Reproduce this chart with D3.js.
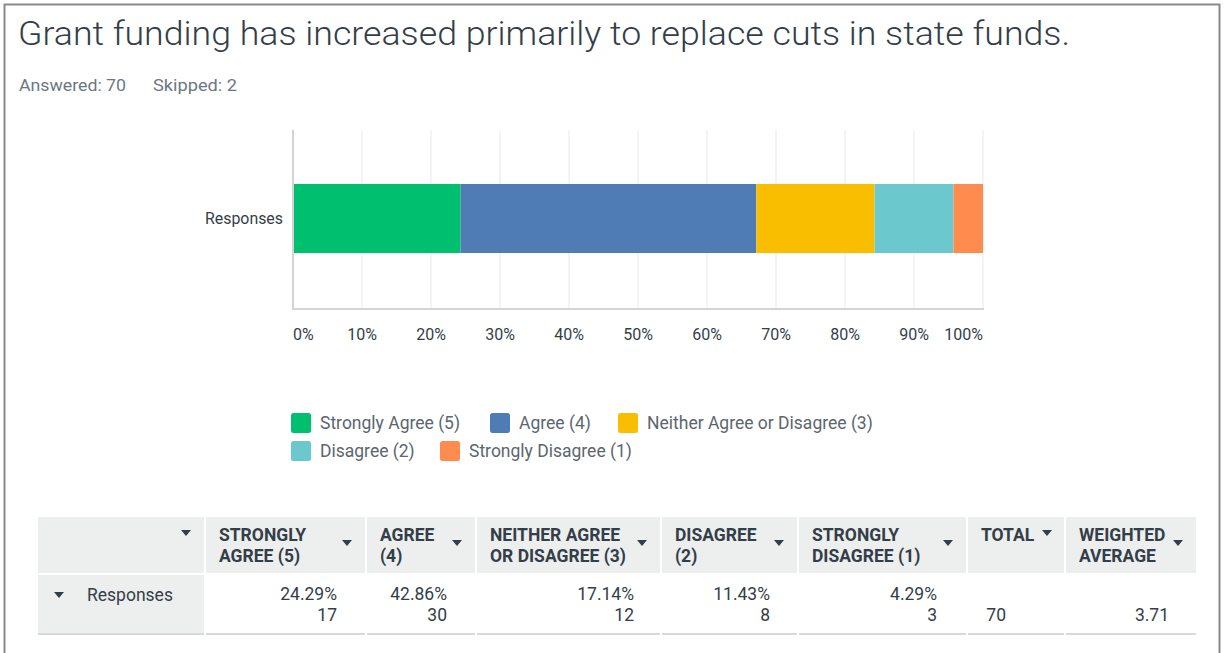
<!DOCTYPE html>
<html>
<head>
<meta charset="utf-8">
<script src="https://cdn.jsdelivr.net/npm/d3@7"></script>
<style>
  html, body { margin: 0; padding: 0; background: #fff; }
  svg { display: block; font-family: Roboto, "Open Sans", sans-serif; }
</style>
</head>
<body>
<svg id="chart" width="1224" height="653"></svg>
<script>
// Survey question and response summary
const title = "Grant funding has increased primarily to replace cuts in state funds.";
const answered = 70;
const skipped = 2;
const rowLabel = "Responses";

const categories = ["Strongly Agree (5)", "Agree (4)", "Neither Agree or Disagree (3)", "Disagree (2)", "Strongly Disagree (1)"];
const headerLines = [["STRONGLY", "AGREE (5)"], ["AGREE", "(4)"], ["NEITHER AGREE", "OR DISAGREE (3)"], ["DISAGREE", "(2)"], ["STRONGLY", "DISAGREE (1)"]];
const percents = [24.29, 42.86, 17.14, 11.43, 4.29];
const counts = [17, 30, 12, 8, 3];
const total = 70;
const weightedAverage = 3.71;
const tickValues = [0, 10, 20, 30, 40, 50, 60, 70, 80, 90, 100];
const colors = ["#00bf6f", "#507cb6", "#f9be00", "#6bc8cd", "#ff8b4f"];

const svg = d3.select("#chart");

// Outer frame (top, left, right edges)
svg.append("path")
  .attr("d", "M4.5,653 V4.5 H1219.5 V653")
  .attr("fill", "none").attr("stroke", "#8a8a8a").attr("stroke-width", 2);

// Title and answer counts
svg.append("text").attr("x", 18).attr("y", 45)
  .attr("font-size", 34).attr("fill", "#333e48").attr("font-weight", 300)
  .attr("textLength", 1052).attr("lengthAdjust", "spacingAndGlyphs")
  .text(title);
svg.append("text").attr("x", 19).attr("y", 91).attr("font-size", 16).attr("fill", "#6b787f")
  .attr("textLength", 107).attr("lengthAdjust", "spacingAndGlyphs")
  .text(`Answered: ${answered}`);
svg.append("text").attr("x", 153).attr("y", 91).attr("font-size", 16).attr("fill", "#6b787f")
  .attr("textLength", 84).attr("lengthAdjust", "spacingAndGlyphs")
  .text(`Skipped: ${skipped}`);

// Stacked horizontal bar
const plot = { left: 293, right: 983, top: 130, bottom: 309 };
const x = d3.scaleLinear().domain([0, 100]).range([plot.left, plot.right]);

// Grid lines
svg.append("g").selectAll("line").data(tickValues.slice(1)).join("line")
  .attr("x1", d => x(d)).attr("x2", d => x(d))
  .attr("y1", plot.top).attr("y2", plot.bottom)
  .attr("stroke", "#e9e9e9").attr("stroke-width", 1);

const stackData = [Object.fromEntries(categories.map((c, i) => [c, percents[i]]))];
const series = d3.stack().keys(categories)(stackData);

svg.append("g").selectAll("rect").data(series).join("rect")
  .attr("x", d => x(d[0][0]))
  .attr("width", d => Math.min(x(d[0][1]), plot.right) - x(d[0][0]))
  .attr("y", 184).attr("height", 69)
  .attr("fill", (d, i) => colors[i]);

// Axes lines
svg.append("line").attr("x1", plot.left).attr("x2", plot.left)
  .attr("y1", plot.top).attr("y2", plot.bottom + 1)
  .attr("stroke", "#d4d4d4").attr("stroke-width", 2);
svg.append("line").attr("x1", plot.left).attr("x2", plot.right + 1)
  .attr("y1", plot.bottom).attr("y2", plot.bottom)
  .attr("stroke", "#d4d4d4").attr("stroke-width", 2);

// Category label
svg.append("text").attr("x", 283).attr("y", 224).attr("text-anchor", "end")
  .attr("font-size", 16).attr("fill", "#333e48")
  .attr("textLength", 78).attr("lengthAdjust", "spacingAndGlyphs")
  .text(rowLabel);

// Tick labels: ends clamped inside the plot area
svg.append("g").selectAll("text").data(tickValues).join("text")
  .attr("x", d => x(d))
  .attr("y", 340)
  .attr("text-anchor", (d, i) => i === 0 ? "start" : (i === tickValues.length - 1 ? "end" : "middle"))
  .attr("font-size", 16).attr("fill", "#333e48")
  .text(d => d + "%");

// Legend
const legendPos = [[291, 413], [490, 413], [618, 413], [291, 441], [440, 441]];
const legend = svg.append("g").selectAll("g").data(categories).join("g")
  .attr("transform", (d, i) => `translate(${legendPos[i][0]},${legendPos[i][1]})`);
legend.append("rect").attr("width", 20).attr("height", 20).attr("rx", 2.5)
  .attr("fill", (d, i) => colors[i]);
legend.append("text").attr("x", 29).attr("y", 16).attr("font-size", 17.5).attr("fill", "#5c666d")
  .text(d => d);

// Summary table
const colEdges = [38, 206, 367, 477, 662, 799, 968, 1066, 1198];
const valueRight = [337, 447, 634, 770, 937];
const headTop = 517, headBottom = 575, rowBottom = 633;
const table = svg.append("g");

// header cells and first column cell
for (let i = 0; i < colEdges.length - 1; i++) {
  table.append("rect")
    .attr("x", colEdges[i]).attr("y", headTop)
    .attr("width", colEdges[i + 1] - colEdges[i] - 2).attr("height", headBottom - headTop - 2)
    .attr("fill", "#edeeee");
}
table.append("rect").attr("x", colEdges[0]).attr("y", headBottom)
  .attr("width", colEdges[1] - colEdges[0] - 2).attr("height", rowBottom - headBottom)
  .attr("fill", "#edeeee");
for (let i = 0; i < colEdges.length - 1; i++) {
  table.append("rect").attr("x", colEdges[i]).attr("y", rowBottom)
    .attr("width", colEdges[i + 1] - colEdges[i] - 2).attr("height", 2)
    .attr("fill", "#d9d9d9");
}

const arrow = (cx, cy) => table.append("path")
  .attr("d", `M${cx - 5},${cy - 3} L${cx + 5},${cy - 3} L${cx},${cy + 3} Z`)
  .attr("fill", "#333e48");

const headStyle = sel => sel.attr("font-size", 17.5).attr("font-weight", 700).attr("fill", "#333e48");

arrow(186, 533);

const headers = headerLines.concat([["TOTAL"], ["WEIGHTED", "AVERAGE"]]);
headers.forEach((lines, i) => {
  const x0 = colEdges[i + 1] + 13;
  lines.forEach((ln, j) => {
    headStyle(table.append("text").attr("x", x0).attr("y", 541 + j * 21)).text(ln);
  });
  if (i === 5) arrow(1047, 533);
  else arrow(colEdges[i + 2] - 20, 543);
});

// data row
arrow(59, 595);
table.append("text").attr("x", 87).attr("y", 601).attr("font-size", 17.5).attr("fill", "#333e48").text(rowLabel);

const valStyle = sel => sel.attr("font-size", 17.5).attr("fill", "#333e48").attr("text-anchor", "end");
percents.forEach((p, i) => {
  valStyle(table.append("text").attr("x", valueRight[i]).attr("y", 600)).text(p.toFixed(2) + "%");
  valStyle(table.append("text").attr("x", valueRight[i]).attr("y", 621)).text(counts[i]);
});
valStyle(table.append("text").attr("x", 1006).attr("y", 621)).text(total);
valStyle(table.append("text").attr("x", 1169).attr("y", 621)).text(weightedAverage.toFixed(2));
</script>
</body>
</html>
